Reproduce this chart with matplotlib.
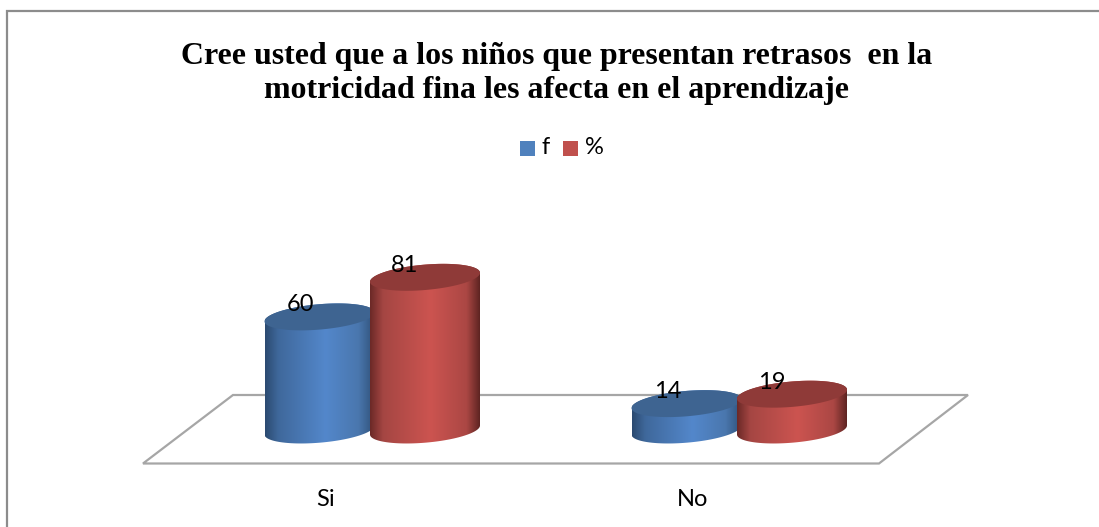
import numpy as np
import matplotlib
matplotlib.use('Agg')
import matplotlib.pyplot as plt
from matplotlib.colors import LinearSegmentedColormap
from matplotlib.patches import Polygon, Rectangle

categorias = ['Si', 'No']
f = [60, 14]
pct = [81, 19]
titulo = 'Cree usted que a los niños que presentan retrasos  en la\nmotricidad fina les afecta en el aprendizaje'

W, H = 1099, 527
PX_POR_UNIDAD = 1.885  # pixeles por unidad de valor
Y_BASE = 430.0         # pixel de la base de los cilindros
CENTROS = [372.0, 739.0]  # pixel de cada grupo
RX = 55.0
RY = 12.7
K = 4.5

fig = plt.figure(figsize=(W / 100, H / 100), dpi=100)

# capa de fondo en pixeles
bg = fig.add_axes([0, 0, 1, 1])
bg.set_xlim(0, W)
bg.set_ylim(H, 0)
bg.axis('off')
bg.plot([7, 7, W], [H, 11, 11], color='#8c8c8c', lw=1.6, solid_joinstyle='miter')
bg.add_patch(Polygon([(143, 463.5), (233, 395), (968, 395), (879, 463.5)], closed=True,
                     fill=False, edgecolor='#a6a6a6', lw=1.6))

bg.text(556.5, 73.5, titulo, family='Liberation Serif', weight='bold', fontsize=22.95,
        ha='center', va='center', linespacing=1.26, color='black')

# leyenda
bg.add_patch(Rectangle((520, 141), 15, 15, color='#4f81bd', lw=0))
bg.text(541, 148, 'f', family='Lato', fontsize=17, ha='left', va='center')
bg.add_patch(Rectangle((563, 141), 15, 15, color='#c0504d', lw=0))
bg.text(585, 148, '%', family='Lato', fontsize=17, ha='left', va='center')

# ejes de datos: x en grupos, y en valores
ax = fig.add_axes([0, 0, 1, 1], facecolor='none')
ax.set_xlim(0, W)
ax.set_ylim(-(H - Y_BASE) / PX_POR_UNIDAD, Y_BASE / PX_POR_UNIDAD)
ax.axis('off')
ax.set_autoscale_on(False)

cmap_azul = LinearSegmentedColormap.from_list('azul', [(0, '#2b4a70'), (0.12, '#3f689b'), (0.55, '#5387cb'),
                                                       (0.85, '#4a77ae'), (1, '#2f5078')])
cmap_rojo = LinearSegmentedColormap.from_list('rojo', [(0, '#6b2927'), (0.12, '#a54643'), (0.55, '#cc5450'),
                                                       (0.88, '#ab4744'), (1, '#5e2422')])
gradiente = np.linspace(0, 1, 256).reshape(1, -1)


def cilindro(cx, valor, cmap, color_tapa, z):
    ry = RY / PX_POR_UNIDAD
    k = K / PX_POR_UNIDAD
    t_abajo = np.linspace(np.pi, 2 * np.pi, 80)
    t_arriba = np.linspace(0, np.pi, 80)
    cuerpo = np.vstack([
        np.column_stack([cx + RX * np.cos(t_abajo), ry * np.sin(t_abajo) + k * np.cos(t_abajo)]),
        np.column_stack([cx + RX * np.cos(t_arriba), valor + ry * np.sin(t_arriba) + k * np.cos(t_arriba)]),
    ])
    clip = Polygon(cuerpo, closed=True, transform=ax.transData, fill=False, lw=0)
    ax.add_patch(clip)
    im = ax.imshow(gradiente, cmap=cmap, aspect='auto', extent=(cx - RX, cx + RX, -2 * ry, valor + 2 * ry), zorder=z)
    im.set_clip_path(clip)
    t = np.linspace(0, 2 * np.pi, 160)
    ax.fill(cx + RX * np.cos(t), valor + ry * np.sin(t) + k * np.cos(t), color=color_tapa, lw=0, zorder=z + 0.1)


for i, nombre in enumerate(categorias):
    cilindro(CENTROS[i] - 52.5, f[i], cmap_azul, '#3e6491', 2)
    cilindro(CENTROS[i] + 53, pct[i], cmap_rojo, '#8f3a38', 3)
    ax.annotate(str(f[i]), (CENTROS[i] - 52.5, f[i]), xytext=(-19, 12), textcoords='offset pixels',
                family='Lato', fontsize=17, ha='center', va='center', zorder=5)
    ax.annotate(str(pct[i]), (CENTROS[i] + 53, pct[i]), xytext=(-20, 12), textcoords='offset pixels',
                family='Lato', fontsize=17, ha='center', va='center', zorder=5)
    bg.text(CENTROS[i] - 46, 499, nombre, family='Lato', fontsize=17, ha='center', va='center', zorder=5)

fig.savefig('out.png', dpi=100)
